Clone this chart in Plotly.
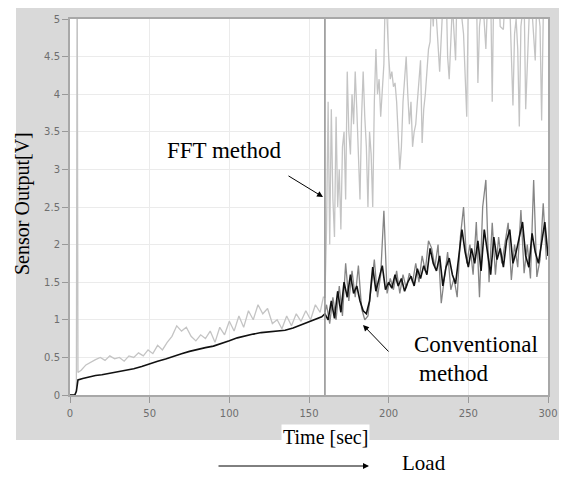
import plotly.graph_objects as go

# ---------------- data ----------------
# Conventional method (black)
t_conv = [0, 3, 4, 5, 8, 12, 16, 20, 25, 30, 35, 40, 45, 50, 55, 60, 65, 70, 75, 80,
          85, 90, 95, 100, 105, 110, 115, 120, 125, 130, 135, 140, 145, 150, 155, 158, 160,
          162, 164, 166, 168, 170, 172, 174, 176, 178, 180, 182, 184, 186, 188, 190, 192,
          194, 196, 198, 200, 202, 204, 206, 208, 210, 212, 214, 216, 218, 220, 222, 224,
          226, 228, 230, 232, 234, 236, 238, 240, 242, 244, 246, 248, 250, 252, 254, 256,
          258, 260, 262, 264, 266, 268, 270, 272, 274, 276, 278, 280, 282, 284, 286, 288,
          290, 292, 294, 296, 298, 300]
v_conv = [0, 0, 0.05, 0.2, 0.22, 0.24, 0.26, 0.27, 0.29, 0.3, 0.33, 0.35, 0.38, 0.42, 0.45,
          0.48, 0.52, 0.55, 0.58, 0.61, 0.63, 0.65, 0.68, 0.72, 0.76, 0.79, 0.81, 0.83, 0.84,
          0.85, 0.86, 0.89, 0.93, 0.97, 1.01, 1.04, 1.08,
          1.0, 1.25, 1.02, 1.38, 1.1, 1.5, 1.3, 1.6, 1.35, 1.45, 1.25, 1.12, 1.08, 1.25, 1.7,
          1.38, 1.55, 1.72, 1.4, 1.5, 1.42, 1.6, 1.45, 1.55, 1.38, 1.5, 1.58, 1.45, 1.68,
          1.55, 1.72, 1.6, 1.95, 1.75, 1.65, 1.85, 1.45, 1.7, 1.82, 1.6, 1.48, 1.85, 2.2,
          1.9, 1.7, 1.95, 1.75, 2.05, 1.65, 2.2, 1.9, 1.6, 2.1, 1.8, 1.95, 1.7, 2.05, 2.2,
          1.75, 1.9, 2.1, 2.3, 1.85, 1.7, 2.15, 1.9, 1.75, 2.05, 2.3, 1.85]

# Conventional method, noisy envelope drawn in grey after the load change
t_conv_raw = [160, 161, 163, 165, 167, 169, 171, 173, 175, 177, 179, 181, 183, 185, 187, 189,
              191, 193, 195, 197, 199, 201, 203, 205, 207, 209, 211, 213, 215, 217, 219,
              221, 223, 225, 227, 229, 231, 233, 235, 237, 239, 241, 243, 245, 247, 249,
              251, 253, 255, 257, 259, 261, 263, 265, 267, 269, 271, 273, 275, 277, 279,
              281, 283, 285, 287, 289, 291, 293, 295, 297, 299]
v_conv_raw = [1.1, 1.2, 0.95, 1.3, 1.0, 1.45, 1.05, 1.75, 1.25, 1.65, 1.3, 1.72, 1.15, 1.0,
              1.05, 1.45, 1.8, 1.3, 1.6, 2.45, 1.35, 1.55, 1.4, 1.65, 1.35, 1.6, 1.42, 1.62,
              1.5, 1.75, 1.5, 1.85, 1.65, 2.05, 1.95, 1.7, 2.0, 1.22, 1.6, 1.9, 1.4, 1.55,
              1.3, 2.1, 2.5, 1.75, 2.0, 1.6, 2.3, 1.3, 2.5, 2.86, 1.5, 2.29, 1.6, 2.1, 1.75,
              2.0, 2.29, 1.53, 2.0, 1.7, 2.46, 1.62, 2.0, 1.55, 2.86, 1.57, 1.8, 2.55, 1.8]

# FFT method (light grey)
t_fft = [0, 3, 4, 4.5, 5, 7, 10, 13, 16, 19, 22, 25, 28, 31, 34, 37, 40, 43, 46, 49, 52,
         55, 58, 61, 64, 67, 70, 73, 76, 79, 82, 85, 88, 91, 94, 97, 100, 103, 106, 109,
         112, 115, 118, 121, 124, 127, 130, 133, 136, 139, 142, 145, 148, 151, 154, 157,
         159, 160, 161, 162, 163, 164, 165, 166, 167, 168, 169, 170, 171, 172, 173, 174,
         175, 176, 177, 178, 179, 180, 181, 182, 183, 184, 185, 186, 187, 188, 189, 190,
         191, 192, 193, 194, 195, 196, 197, 198, 199, 200, 201, 202, 203, 204, 205, 206,
         207, 208, 209, 210, 211, 212, 213, 214, 215, 216, 217, 218, 219, 220, 221, 222,
         223, 224, 225, 226, 227, 228, 229, 230, 232, 234, 236, 237, 238, 240, 242, 243,
         245, 247, 249, 250, 252, 254, 255, 256, 257, 259, 261, 262, 264, 265, 266, 268,
         269, 270, 272, 273, 275, 276, 278, 279, 280, 281, 282, 283, 285, 286, 287, 289,
         290, 292, 293, 295, 296, 297, 299, 300]
v_fft = [0, 0, 0.05, 6, 0.3, 0.33, 0.4, 0.44, 0.47, 0.5, 0.46, 0.52, 0.48, 0.5, 0.45, 0.52,
         0.5, 0.56, 0.52, 0.6, 0.55, 0.66, 0.6, 0.7, 0.78, 0.92, 0.85, 0.9, 0.78, 0.72, 0.8,
         0.75, 0.85, 0.7, 0.9, 0.8, 0.98, 0.85, 1.05, 0.9, 1.12, 1.0, 1.2, 1.08, 1.15, 0.95,
         1.0, 0.88, 1.05, 0.92, 1.08, 0.98, 1.12, 1.0, 1.2, 1.1, 1.3,
         1.3, 2.2, 3.9, 2.0, 3.8, 2.6, 2.1, 3.7, 2.5, 3.0, 2.2, 3.3, 3.5, 2.6, 4.3, 3.5,
         3.2, 4.0, 3.6, 4.3, 3.8, 3.1, 2.6, 3.7, 4.3, 3.7, 3.3, 2.5, 3.5, 3.2, 2.5, 3.9,
         4.6, 4.0, 4.2, 3.7, 4.1, 4.4, 5.5, 4.9, 4.5, 4.2, 4.3, 4.1, 4.15, 3.9, 3.4, 3.0,
         3.3, 3.9, 4.2, 4.5, 4.0, 3.6, 3.9, 3.3, 3.5, 3.6, 3.9, 4.2, 4.45, 3.35, 3.8, 4.0,
         4.3, 4.6, 4.7, 5.3, 4.9, 5.5, 5.0, 4.3, 5.2, 5.5, 4.5, 4.2, 5.2, 4.45, 5.5, 5.2,
         4.8, 3.7, 5.3, 5.5, 5.2, 5.5, 4.15, 4.9, 5.3, 4.6, 5.2, 5.4, 3.9, 5.5, 5.2, 5.5,
         4.9, 4.86, 5.3, 5.5, 5.2, 3.85, 4.8, 5.0, 4.6, 3.57, 4.9, 5.3, 3.8, 4.6, 5.5, 5.1,
         4.45, 5.3, 4.9, 3.65, 5.0, 5.5, 5.2]

load_change_time = 160
x_ticks = [0, 50, 100, 150, 200, 250, 300]
y_ticks = [0, 0.5, 1, 1.5, 2, 2.5, 3, 3.5, 4, 4.5, 5]
y_tick_text = ["0", "0.5", "1", "1.5", "2", "2.5", "3", "3.5", "4", "4.5", "5"]

# ---------------- figure ----------------
# The page has an 8px body margin, so the figure is drawn from (8, 8).
OFF = 8
PAGE_W, PAGE_H = 567, 477
W, H = PAGE_W - OFF, PAGE_H - OFF
PLOT_X0, PLOT_X1, PLOT_Y0, PLOT_Y1 = 70, 548, 19, 395   # page pixels of the plot area
L, R, T, B = PLOT_X0 - OFF, PAGE_W - PLOT_X1, PLOT_Y0 - OFF, PAGE_H - PLOT_Y1
pw, ph = W - L - R, H - T - B


def px(xp):
    return (xp - PLOT_X0) / pw


def py(yp):
    return (PLOT_Y1 - yp) / ph


fig = go.Figure()
fig.add_trace(go.Scatter(x=t_fft, y=v_fft, mode="lines",
                         line=dict(color="#c4c4c4", width=1.3), hoverinfo="skip"))
fig.add_trace(go.Scatter(x=t_conv_raw, y=v_conv_raw, mode="lines",
                         line=dict(color="#858585", width=1.3), hoverinfo="skip"))
fig.add_trace(go.Scatter(x=t_conv, y=v_conv, mode="lines",
                         line=dict(color="#111111", width=1.6), hoverinfo="skip"))

fig.add_shape(type="rect", xref="paper", yref="paper", layer="below",
              x0=px(16), x1=px(561), y0=py(440), y1=py(OFF),
              fillcolor="#d9d9d9", line=dict(width=0))
fig.add_shape(type="rect", xref="paper", yref="paper", layer="below",
              x0=0, x1=1, y0=0, y1=1, fillcolor="white", line=dict(width=0))
fig.add_vline(x=load_change_time, line_color="#8e8e8e", line_width=1.5)

serif = "Liberation Serif"
black = "black"


def label(text, xp, yp, size, angle=0, xanchor="center", **kw):
    return dict(text=text, xref="paper", yref="paper", x=px(xp), y=py(yp),
                xanchor=xanchor, yanchor="middle", textangle=angle, showarrow=False,
                font=dict(family=serif, size=size, color=black), **kw)


def arrow(head_x, head_y, tail_x, tail_y):
    return dict(text="", xref="paper", yref="paper", x=px(head_x), y=py(head_y),
                ax=tail_x - head_x, ay=tail_y - head_y, showarrow=True, arrowhead=2,
                arrowsize=1.2, arrowwidth=1, arrowcolor=black)


annotations = [
    label("Sensor Output[V]", 22, 204, 20, angle=-90),
    label("Time [sec]", 325, 437, 20, bgcolor="white", borderpad=1),
    label("FFT method", 224, 150, 23),
    arrow(323, 197, 287, 175),
    label("Conventional", 412, 344, 23, xanchor="left"),
    label("method", 417, 373, 23, xanchor="left"),
    arrow(363, 325, 390, 353),
    label("Load", 424, 463, 21),
    arrow(369, 466, 217, 466),
]

tick_font = dict(family="DejaVu Sans", size=10, color="#6e6e6e")
fig.update_layout(
    width=W, height=H, margin=dict(l=L, r=R, t=T, b=B, autoexpand=False),
    paper_bgcolor="white", plot_bgcolor="white", showlegend=False,
    annotations=annotations,
    xaxis=dict(range=[0, 300], tickvals=x_ticks, ticks="outside", ticklen=6,
               tickcolor="#999999", tickfont=tick_font, showgrid=True,
               gridcolor="#ebebeb", gridwidth=1, zeroline=False, showline=True,
               linecolor="#a8a8a8", linewidth=2, mirror=True, ticklabelstandoff=2),
    yaxis=dict(range=[0, 5], tickvals=y_ticks, ticktext=y_tick_text, ticks="outside",
               ticklen=6, tickcolor="#999999", tickfont=tick_font, showgrid=True,
               gridcolor="#ebebeb", gridwidth=1, zeroline=False, showline=True,
               linecolor="#a8a8a8", linewidth=2, mirror=True),
)

fig.write_html("out.html")
